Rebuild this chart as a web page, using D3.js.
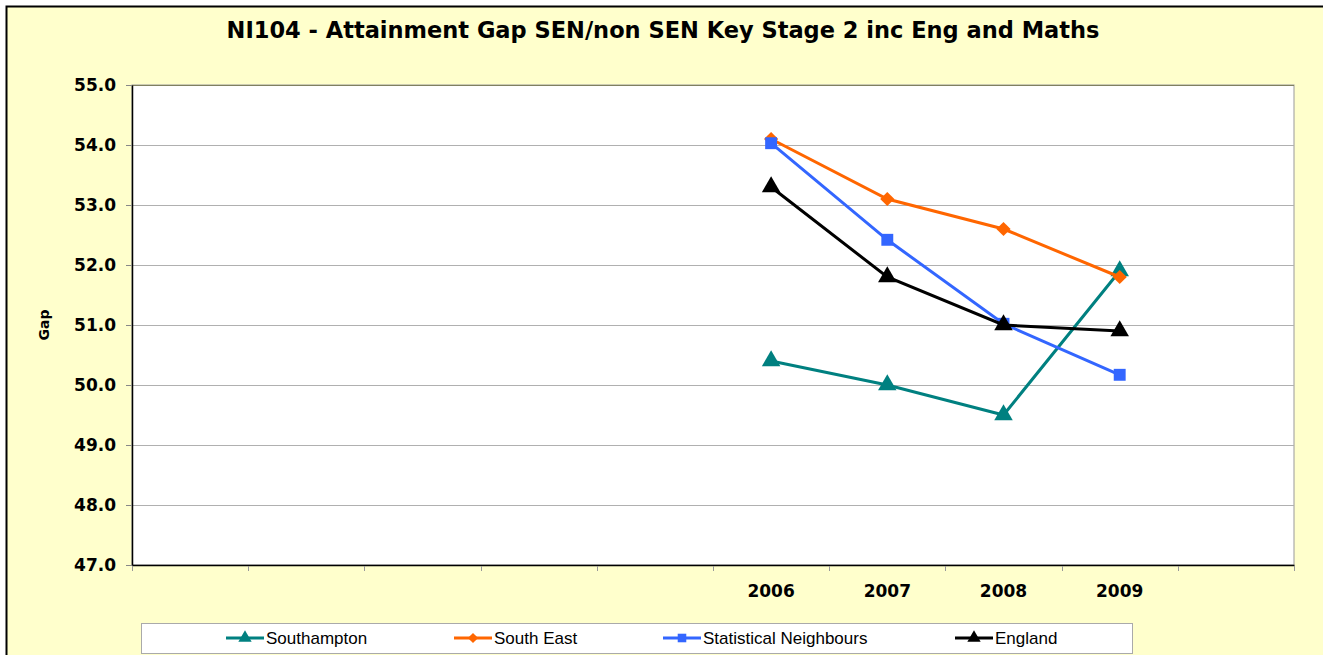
<!DOCTYPE html>
<html>
<head>
<meta charset="utf-8">
<script src="https://cdn.jsdelivr.net/npm/d3@7"></script>
<style>
  body { margin: 0; background: #fff; }
  .frame { display: block; }
</style>
</head>
<body>
<div class="chart"></div>
<script>

const FRAME_WIDTH = 1323;
const FRAME_HEIGHT = 655;
const MARGINS = {left: 132, right: 29, top: 85, bottom: 90};

// data
const CATEGORIES = ["", "", "", "", "", "2006", "2007", "2008", "2009", ""];
const SOUTHAMPTON = [null, null, null, null, null, 50.4, 50.0, 49.5, 51.9, null];
const SOUTH_EAST = [null, null, null, null, null, 54.1, 53.1, 52.6, 51.8, null];
const STAT_NEIGHBOURS = [null, null, null, null, null, 54.03, 52.42, 51.02, 50.17, null];
const ENGLAND = [null, null, null, null, null, 53.3, 51.8, 51.0, 50.9, null];
const Y_TICKS = [47, 48, 49, 50, 51, 52, 53, 54, 55];

const SERIES = [
    {name: "Southampton", values: SOUTHAMPTON, color: "#008080", marker: "triangle"},
    {name: "South East", values: SOUTH_EAST, color: "#FF6600", marker: "diamond"},
    {name: "Statistical Neighbours", values: STAT_NEIGHBOURS, color: "#3366FF", marker: "square"},
    {name: "England", values: ENGLAND, color: "#000000", marker: "triangle"}
];

const PLOT_WIDTH = FRAME_WIDTH - MARGINS.left - MARGINS.right;
const PLOT_HEIGHT = FRAME_HEIGHT - MARGINS.top - MARGINS.bottom;

const FRAME = d3.select(".chart")
    .append("svg")
    .attr("width", FRAME_WIDTH)
    .attr("height", FRAME_HEIGHT)
    .attr("class", "frame");

// chart area background with border
FRAME.append("rect")
    .attr("x", 6.5).attr("y", 6.5)
    .attr("width", FRAME_WIDTH + 10).attr("height", FRAME_HEIGHT + 10)
    .attr("fill", "#FFFFCC")
    .attr("stroke", "#000")
    .attr("stroke-width", 2);

FRAME.append("text")
    .attr("x", 663)
    .attr("y", 38)
    .attr("text-anchor", "middle")
    .attr("font-family", "DejaVu Sans")
    .attr("font-weight", "bold")
    .attr("font-size", "22.5px")
    .text("NI104 - Attainment Gap SEN/non SEN Key Stage 2 inc Eng and Maths");

const X_SCALE = d3.scaleBand()
    .domain(d3.range(CATEGORIES.length))
    .range([0, PLOT_WIDTH]);

const Y_SCALE = d3.scaleLinear()
    .domain([47, 55])
    .range([PLOT_HEIGHT, 0]);

const PLOT = FRAME.append("g")
    .attr("transform", "translate(" + MARGINS.left + "," + MARGINS.top + ")");

PLOT.append("rect")
    .attr("width", PLOT_WIDTH)
    .attr("height", PLOT_HEIGHT)
    .attr("fill", "#fff")
    .attr("stroke", "#999")
    .attr("stroke-width", 1);

// gridlines
PLOT.selectAll(".grid")
    .data(Y_TICKS.slice(1))
    .enter()
    .append("line")
    .attr("x1", 0)
    .attr("x2", PLOT_WIDTH)
    .attr("y1", (d) => Math.round(Y_SCALE(d)) + 0.5)
    .attr("y2", (d) => Math.round(Y_SCALE(d)) + 0.5)
    .attr("stroke", (d) => d === 55 ? "#808060" : "#b0b0b0")
    .attr("stroke-width", 1);

// y axis
const yAxis = PLOT.append("g")
    .call(d3.axisLeft(Y_SCALE).tickValues(Y_TICKS).tickFormat(d3.format(".1f")).tickSize(6).tickSizeOuter(0));
yAxis.select(".domain").attr("stroke", "#000").attr("stroke-width", 1.5);
yAxis.selectAll(".tick line").attr("stroke", "#888");
yAxis.selectAll("text")
    .attr("x", -16)
    .attr("font-family", "DejaVu Sans")
    .attr("font-weight", "bold")
    .attr("font-size", "17px")
    .attr("fill", "#000");

// x axis
const xAxis = PLOT.append("g")
    .attr("transform", "translate(0," + PLOT_HEIGHT + ")")
    .call(d3.axisBottom(X_SCALE).tickFormat((i) => CATEGORIES[i]).tickSize(0).tickSizeOuter(0));
xAxis.select(".domain").attr("stroke", "#000").attr("stroke-width", 1.5);
xAxis.selectAll("text")
    .attr("y", 20)
    .attr("font-family", "DejaVu Sans")
    .attr("font-weight", "bold")
    .attr("font-size", "17px")
    .attr("fill", "#000");

// tick marks between categories
const bounds = X_SCALE.domain().map((i) => X_SCALE(i)).concat([PLOT_WIDTH]);
xAxis.selectAll(".sep")
    .data(bounds)
    .enter()
    .append("line")
    .attr("x1", (d) => Math.round(d) + 0.5)
    .attr("x2", (d) => Math.round(d) + 0.5)
    .attr("y1", 1)
    .attr("y2", 6)
    .attr("stroke", "#999");

// y axis title
FRAME.append("text")
    .attr("transform", "translate(49," + (MARGINS.top + PLOT_HEIGHT / 2) + ") rotate(-90)")
    .attr("text-anchor", "middle")
    .attr("font-family", "DejaVu Sans")
    .attr("font-weight", "bold")
    .attr("font-size", "14px")
    .text("Gap");

function markerPath(type, size) {
    if (type === "triangle") return d3.symbol().type(d3.symbolTriangle).size(size * 1.1)();
    return d3.symbol().type(d3.symbolSquare).size(size * (type === "diamond" ? 0.75 : 1.05))();
}

function markerRotate(type) {
    return type === "diamond" ? " rotate(45)" : "";
}

const line = d3.line()
    .defined((d) => d !== null)
    .x((d, i) => X_SCALE(i) + X_SCALE.bandwidth() / 2)
    .y((d) => Y_SCALE(d));

SERIES.forEach((s) => {
    const g = PLOT.append("g");
    g.append("path")
        .attr("d", line(s.values))
        .attr("fill", "none")
        .attr("stroke", s.color)
        .attr("stroke-width", 3);
    g.selectAll("path.pt")
        .data(s.values.map((v, i) => ({v: v, i: i})).filter((d) => d.v !== null))
        .enter()
        .append("path")
        .attr("class", "pt")
        .attr("transform", (d) => "translate(" + (X_SCALE(d.i) + X_SCALE.bandwidth() / 2) + "," + Y_SCALE(d.v) + ")" + markerRotate(s.marker))
        .attr("d", markerPath(s.marker, 135))
        .attr("fill", s.color);
});

// legend
const LEGEND = FRAME.append("g");
LEGEND.append("rect")
    .attr("x", 141.5).attr("y", 623.5)
    .attr("width", 991).attr("height", 30)
    .attr("fill", "#fff")
    .attr("stroke", "#aaa");

const LEGEND_X = [226, 454, 663, 955];
SERIES.forEach((s, k) => {
    const lg = LEGEND.append("g").attr("transform", "translate(" + LEGEND_X[k] + ",638)");
    lg.append("line")
        .attr("x1", 0).attr("x2", 38)
        .attr("stroke", s.color).attr("stroke-width", 3);
    lg.append("path")
        .attr("transform", "translate(19,0)" + markerRotate(s.marker))
        .attr("d", markerPath(s.marker, 70))
        .attr("fill", s.color);
    lg.append("text")
        .attr("x", 40)
        .attr("y", 6)
        .attr("font-family", "Liberation Sans")
        .attr("font-size", "17px")
        .text(s.name);
});

</script>
</body>
</html>
